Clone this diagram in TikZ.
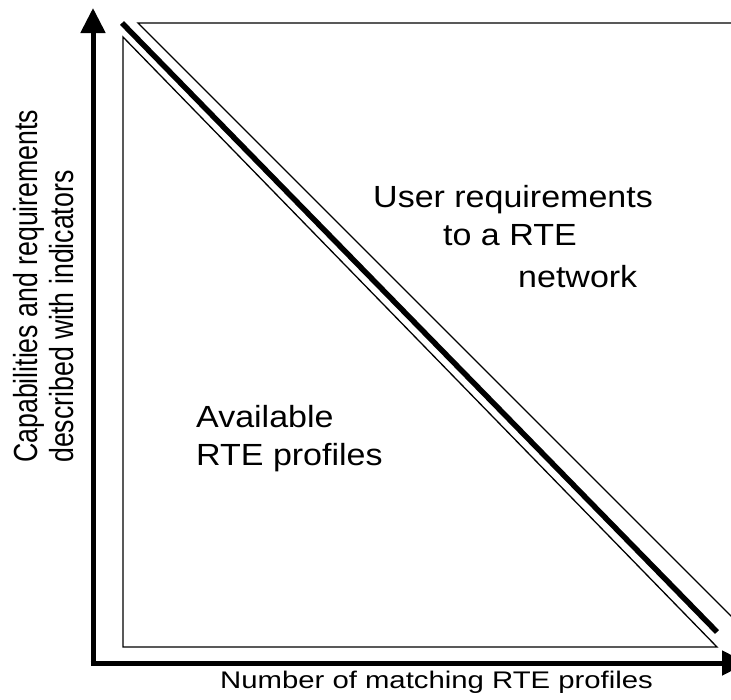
\documentclass[tikz,border=0pt]{standalone}
\usepackage{fontspec}
\setmainfont{Liberation Sans}
\usetikzlibrary{arrows.meta}
\begin{document}
\begin{tikzpicture}[x=1pt,y=-1pt,
  axisline/.style={line width=5pt, -{Triangle[length=25pt,width=24pt]}},
  thinline/.style={line width=1.3pt, line join=miter},
  thickline/.style={line width=5.5pt},
  bigtext/.style={inner sep=0pt, anchor=base west, font=\fontsize{34}{40}\selectfont},
  axtext/.style={inner sep=0pt, anchor=base west, font=\fontsize{29.3}{34}\selectfont},
  ytext/.style={inner sep=0pt, rotate=90, anchor=base west, font=\fontsize{26.7}{32}\selectfont},
]
\useasboundingbox (0,0) rectangle (731,699);
\clip (0,0) rectangle (731,699);
% axes
\coordinate (O) at (93,663);
\coordinate (ytip) at (93,8);
\coordinate (xtip) at (747,663);
\draw[axisline] (O) -- (ytip);
\draw[axisline] ([xshift=-2.5pt]O) -- (xtip);
% lower triangle
\coordinate (LA) at (123,37);
\coordinate (LB) at (123,647);
\coordinate (LC) at (717,647);
\draw[thinline] (LA) -- (LB) -- (LC) -- cycle;
% thick separator
\coordinate (TA) at (122,23);
\coordinate (TB) at (717,632);
\draw[thickline] (TA) -- (TB);
% upper triangle
\coordinate (UA) at (138,23);
\coordinate (UB) at (760,23);
\coordinate (UC) at (760,645);
\draw[thinline] (UB) -- (UA) -- (UC);
% texts
\node[bigtext] (u1) at (373,207) {\scalebox{1}[0.9]{User requirements}};
\node[bigtext] (u2) at (443,245) {\scalebox{1}[0.9]{to a RTE}};
\node[bigtext] (u3) at (518,287) {\scalebox{1}[0.9]{network}};
\node[bigtext] (a1) at (196,427) {\scalebox{1}[0.9]{Available}};
\node[bigtext] (a2) at (196,465) {\scalebox{1}[0.9]{RTE profiles}};
\node[axtext] (xl) at (220,688) {\scalebox{1}[0.82]{Number of matching RTE profiles}};
\node[ytext] (yl1) at (37,463) {\scalebox{1}[1.25]{Capabilities and requirements}};
\node[ytext] (yl2) at (73,463) {\scalebox{1}[1.25]{described with indicators}};
\end{tikzpicture}
\end{document}
